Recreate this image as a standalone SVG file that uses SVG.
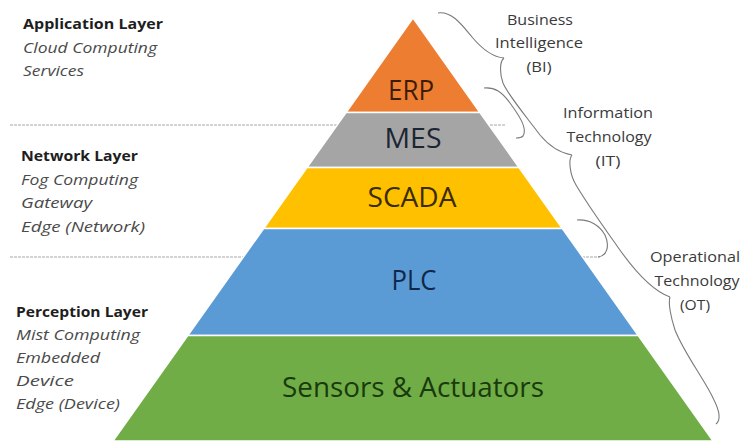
<svg xmlns="http://www.w3.org/2000/svg" width="744" height="443" viewBox="0 0 744 443">
<style>
.band{stroke:#ffffff;stroke-width:1.4}
.lbl{font-family:"Open Sans","Liberation Sans",sans-serif;font-size:27px;text-anchor:middle}
.ttl{font-family:"Open Sans","Liberation Sans",sans-serif;font-size:15px;font-weight:bold;fill:#1e1e1e}
.sub{font-family:"Open Sans","Liberation Sans",sans-serif;font-size:15px;font-style:italic;fill:#4a4a4a}
.rt{font-family:"Open Sans","Liberation Sans",sans-serif;font-size:15px;fill:#3a3a3a;text-anchor:middle}
.sep{stroke:#a8a8a8;stroke-width:1.2;stroke-dasharray:3 1;fill:none}
.brace{stroke:#7a7a7a;stroke-width:1.1;fill:none}
</style>
<rect width="744" height="443" fill="#ffffff"/>
<g id="separators">
<line class="sep" x1="10" y1="125" x2="505" y2="125"/>
<line class="sep" x1="10" y1="257" x2="600" y2="257"/>
</g>
<g id="erp">
<polygon class="band" fill="#ED7D31" points="413,18 479.9,112.5 346.1,112.5"/>
<text class="lbl" x="411" y="100" fill="#3d1d08" textLength="46" lengthAdjust="spacingAndGlyphs">ERP</text>
</g>
<g id="mes">
<polygon class="band" fill="#A5A5A5" points="346.1,112.5 479.9,112.5 519,167.5 307,167.5"/>
<text class="lbl" x="413" y="148" fill="#1c2633" textLength="57" lengthAdjust="spacingAndGlyphs">MES</text>
</g>
<g id="scada">
<polygon class="band" fill="#FFC000" points="307,167.5 519,167.5 562.3,228.5 263.7,228.5"/>
<text class="lbl" x="412" y="207" fill="#3b2c00" textLength="89" lengthAdjust="spacingAndGlyphs">SCADA</text>
</g>
<g id="plc">
<polygon class="band" fill="#5B9BD5" points="263.7,228.5 562.3,228.5 638.2,335.5 187.8,335.5"/>
<text class="lbl" x="414" y="290" fill="#11284a" textLength="45" lengthAdjust="spacingAndGlyphs">PLC</text>
</g>
<g id="sensors">
<polygon class="band" fill="#70AD47" points="187.8,335.5 638.2,335.5 713,441 113,441"/>
<text class="lbl" x="413" y="397" fill="#1a3a0c" textLength="262" lengthAdjust="spacingAndGlyphs">Sensors &amp; Actuators</text>
</g>
<g id="application-layer">
<text class="ttl" x="23" y="29" textLength="140" lengthAdjust="spacingAndGlyphs">Application Layer</text>
<text class="sub" x="23" y="52.5" textLength="134" lengthAdjust="spacingAndGlyphs">Cloud Computing</text>
<text class="sub" x="23" y="76" textLength="61" lengthAdjust="spacingAndGlyphs">Services</text>
</g>
<g id="network-layer">
<text class="ttl" x="21" y="161" textLength="117" lengthAdjust="spacingAndGlyphs">Network Layer</text>
<text class="sub" x="21" y="185" textLength="117" lengthAdjust="spacingAndGlyphs">Fog Computing</text>
<text class="sub" x="21" y="208" textLength="71" lengthAdjust="spacingAndGlyphs">Gateway</text>
<text class="sub" x="21" y="232" textLength="124" lengthAdjust="spacingAndGlyphs">Edge (Network)</text>
</g>
<g id="perception-layer">
<text class="ttl" x="16" y="317" textLength="132" lengthAdjust="spacingAndGlyphs">Perception Layer</text>
<text class="sub" x="16" y="340" textLength="124" lengthAdjust="spacingAndGlyphs">Mist Computing</text>
<text class="sub" x="16" y="363" textLength="84" lengthAdjust="spacingAndGlyphs">Embedded</text>
<text class="sub" x="16" y="386" textLength="58" lengthAdjust="spacingAndGlyphs">Device</text>
<text class="sub" x="16" y="409" textLength="104" lengthAdjust="spacingAndGlyphs">Edge (Device)</text>
</g>
<g id="bi">
<text class="rt" x="540" y="25" textLength="66" lengthAdjust="spacingAndGlyphs">Business</text>
<text class="rt" x="539" y="48" textLength="88" lengthAdjust="spacingAndGlyphs">Intelligence</text>
<text class="rt" x="539" y="72" textLength="25" lengthAdjust="spacingAndGlyphs">(BI)</text>
</g>
<g id="it">
<text class="rt" x="608" y="118" textLength="90" lengthAdjust="spacingAndGlyphs">Information</text>
<text class="rt" x="609" y="142" textLength="85" lengthAdjust="spacingAndGlyphs">Technology</text>
<text class="rt" x="608" y="166" textLength="25" lengthAdjust="spacingAndGlyphs">(IT)</text>
</g>
<g id="ot">
<text class="rt" x="695" y="262" textLength="90" lengthAdjust="spacingAndGlyphs">Operational</text>
<text class="rt" x="697" y="286" textLength="85" lengthAdjust="spacingAndGlyphs">Technology</text>
<text class="rt" x="695" y="310" textLength="30" lengthAdjust="spacingAndGlyphs">(OT)</text>
</g>
<g id="connectors">
<path class="brace" d="M438,13 C452,11 462,25 472,37 C482,49 492,57 504,58"/>
<path class="brace" d="M504,58 C499,62 500,75 503,83 C508,95 525,115 540,135 C550,147 560,153 572,155"/>
<path class="brace" d="M572,155 C568,160 570,175 576,185 C585,200 600,222 615,243 C630,265 650,290 670,297"/>
<path class="brace" d="M670,297 C668,303 671,318 675,330 C685,355 705,380 714,400 C720,412 721,420 716,424"/>
<path class="brace" d="M484,88 C495,87 502,92 510,103 C518,114 528,128 523,136 C521,138 519,138 516,138"/>
<path class="brace" d="M577,220 C590,219 600,226 605,235 C610,246 607,256 598,257"/>
</g>
</svg>
